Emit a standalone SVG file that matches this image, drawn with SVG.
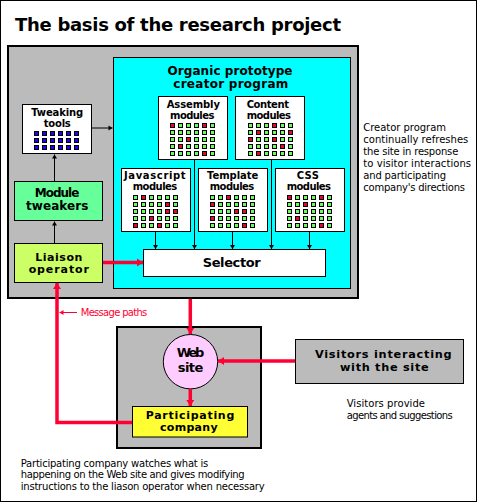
<svg xmlns="http://www.w3.org/2000/svg" xmlns:xlink="http://www.w3.org/1999/xlink" width="477" height="503" viewBox="0 0 477 503">
<style>
text{font-family:"DejaVu Sans","Liberation Sans",sans-serif;fill:#000}
.b{font-weight:bold}
.m{text-anchor:middle}
.s{font-size:10px}
.n{font-size:12px}
.box{stroke:#000;stroke-width:1}
.g{fill:#66FF55;stroke:#000;stroke-width:1}
.r{fill:#EE0033;stroke:#000;stroke-width:1}
.bl{fill:#2200EE;stroke:#000;stroke-width:1}
.k{stroke:#000;stroke-width:1;fill:none}
.red{stroke:#FF0033;stroke-width:3.5;fill:none}
</style>
<defs>
<marker id="ak" markerUnits="userSpaceOnUse" markerWidth="8" markerHeight="8" refX="4" refY="0" viewBox="0 -4 5 8" orient="auto"><path d="M0,-2.5 L4,0 L0,2.5 z" fill="#000"/></marker>
<marker id="ar" markerUnits="userSpaceOnUse" markerWidth="10" markerHeight="10" refX="6" refY="0" viewBox="0 -5 7 10" orient="auto"><path d="M0,-4 L6,0 L0,4 z" fill="#FF0033"/></marker>
<marker id="as" markerUnits="userSpaceOnUse" markerWidth="8" markerHeight="8" refX="4" refY="0" viewBox="0 -4 5 8" orient="auto"><path d="M0,-2.5 L4,0 L0,2.5 z" fill="#FF0033"/></marker>
<g id="grid">
<rect class="g" x="0.5" y="0.5" width="4" height="4"/><rect class="g" x="8.5" y="0.5" width="4" height="4"/><rect class="g" x="16.5" y="0.5" width="4" height="4"/><rect class="g" x="24.5" y="0.5" width="4" height="4"/><rect class="g" x="32.5" y="0.5" width="4" height="4"/><rect class="g" x="40.5" y="0.5" width="4" height="4"/>
<rect class="g" x="0.5" y="7.5" width="4" height="4"/><rect class="g" x="8.5" y="7.5" width="4" height="4"/><rect class="g" x="16.5" y="7.5" width="4" height="4"/><rect class="g" x="24.5" y="7.5" width="4" height="4"/><rect class="g" x="32.5" y="7.5" width="4" height="4"/><rect class="g" x="40.5" y="7.5" width="4" height="4"/>
<rect class="g" x="0.5" y="14.5" width="4" height="4"/><rect class="g" x="8.5" y="14.5" width="4" height="4"/><rect class="g" x="16.5" y="14.5" width="4" height="4"/><rect class="g" x="24.5" y="14.5" width="4" height="4"/><rect class="g" x="32.5" y="14.5" width="4" height="4"/><rect class="g" x="40.5" y="14.5" width="4" height="4"/>
<rect class="g" x="0.5" y="21.5" width="4" height="4"/><rect class="g" x="8.5" y="21.5" width="4" height="4"/><rect class="g" x="16.5" y="21.5" width="4" height="4"/><rect class="g" x="24.5" y="21.5" width="4" height="4"/><rect class="g" x="32.5" y="21.5" width="4" height="4"/><rect class="g" x="40.5" y="21.5" width="4" height="4"/>
<rect class="g" x="0.5" y="28.5" width="4" height="4"/><rect class="g" x="8.5" y="28.5" width="4" height="4"/><rect class="g" x="16.5" y="28.5" width="4" height="4"/><rect class="g" x="24.5" y="28.5" width="4" height="4"/><rect class="g" x="32.5" y="28.5" width="4" height="4"/><rect class="g" x="40.5" y="28.5" width="4" height="4"/>
</g>
</defs>

<rect x="0" y="0" width="477" height="503" fill="#fff"/>
<rect x="0.5" y="0.5" width="476" height="501" fill="none" stroke="#000" stroke-width="1"/>

<text class="b" x="15" y="31" font-size="18" textLength="326" lengthAdjust="spacing">The basis of the research project</text>

<g id="main-area">
<rect x="8" y="46" width="350" height="252" fill="#BBBBBB" stroke="#000" stroke-width="2"/>
</g>

<g id="creator-program">
<rect class="box" x="113.5" y="57.5" width="237" height="231" fill="#00FFFF"/>
<text class="b m n" x="230" y="75" textLength="125" lengthAdjust="spacing">Organic prototype</text>
<text class="b m n" x="230.8" y="88" textLength="115" lengthAdjust="spacing">creator program</text>
</g>

<g id="tweaking-tools">
<rect class="box" x="22.5" y="104.5" width="69" height="49" fill="#fff"/>
<text class="b m s" x="57.2" y="116" textLength="52" lengthAdjust="spacing">Tweaking</text>
<text class="b m s" x="57.3" y="126.7" textLength="27" lengthAdjust="spacing">tools</text>
<rect class="bl" x="34.5" y="131.5" width="4" height="4"/><rect class="bl" x="42.5" y="131.5" width="4" height="4"/><rect class="bl" x="50.5" y="131.5" width="4" height="4"/><rect class="bl" x="58.5" y="131.5" width="4" height="4"/><rect class="bl" x="66.5" y="131.5" width="4" height="4"/><rect class="bl" x="74.5" y="131.5" width="4" height="4"/>
<rect class="bl" x="34.5" y="138.5" width="4" height="4"/><rect class="bl" x="42.5" y="138.5" width="4" height="4"/><rect class="bl" x="50.5" y="138.5" width="4" height="4"/><rect class="bl" x="58.5" y="138.5" width="4" height="4"/><rect class="bl" x="66.5" y="138.5" width="4" height="4"/><rect class="bl" x="74.5" y="138.5" width="4" height="4"/>
<rect class="bl" x="34.5" y="145.5" width="4" height="4"/><rect class="bl" x="42.5" y="145.5" width="4" height="4"/><rect class="bl" x="50.5" y="145.5" width="4" height="4"/><rect class="bl" x="58.5" y="145.5" width="4" height="4"/><rect class="bl" x="66.5" y="145.5" width="4" height="4"/><rect class="bl" x="74.5" y="145.5" width="4" height="4"/>
</g>

<g id="module-tweakers">
<rect class="box" x="14.5" y="181.5" width="88" height="39" fill="#66FF99"/>
<text class="b m n" x="57" y="196.7" textLength="44.6" lengthAdjust="spacing">Module</text>
<text class="b m n" x="57.2" y="209.5" textLength="62.3" lengthAdjust="spacing">tweakers</text>
</g>

<g id="liaison-operator">
<rect class="box" x="14.5" y="243.5" width="88" height="39" fill="#CCFF66"/>
<text class="b m" x="58.8" y="260.5" font-size="11" textLength="47" lengthAdjust="spacing">Liaison</text>
<text class="b m" x="58.8" y="272.5" font-size="11" textLength="60.3" lengthAdjust="spacing">operator</text>
</g>

<g id="assembly-modules">
<rect class="box" x="158.5" y="96.5" width="69" height="63" fill="#fff"/>
<text class="b m s" x="193.3" y="108.3" textLength="53.3" lengthAdjust="spacing">Assembly</text>
<text class="b m s" x="192.2" y="118.5" textLength="44.3" lengthAdjust="spacing">modules</text>
<use xlink:href="#grid" x="170" y="123"/>
<rect class="r" x="170.5" y="123.5" width="4" height="4"/><rect class="r" x="202.5" y="123.5" width="4" height="4"/><rect class="r" x="186.5" y="137.5" width="4" height="4"/><rect class="r" x="178.5" y="144.5" width="4" height="4"/><rect class="r" x="202.5" y="151.5" width="4" height="4"/>
</g>

<g id="content-modules">
<rect class="box" x="235.5" y="96.5" width="69" height="63" fill="#fff"/>
<text class="b m s" x="267.8" y="108.3" textLength="42.3" lengthAdjust="spacing">Content</text>
<text class="b m s" x="268.8" y="118.5" textLength="44.3" lengthAdjust="spacing">modules</text>
<use xlink:href="#grid" x="248" y="123"/>
<rect class="r" x="272.5" y="123.5" width="4" height="4"/><rect class="r" x="256.5" y="130.5" width="4" height="4"/><rect class="r" x="288.5" y="130.5" width="4" height="4"/><rect class="r" x="248.5" y="137.5" width="4" height="4"/><rect class="r" x="272.5" y="137.5" width="4" height="4"/><rect class="r" x="280.5" y="144.5" width="4" height="4"/><rect class="r" x="256.5" y="151.5" width="4" height="4"/>
</g>

<g id="javascript-modules">
<rect class="box" x="121.5" y="168.5" width="69" height="63" fill="#fff"/>
<text class="b m s" x="154.8" y="179.3" textLength="61.7" lengthAdjust="spacing">Javascript</text>
<text class="b m s" x="155" y="190.2" textLength="44.6" lengthAdjust="spacing">modules</text>
<use xlink:href="#grid" x="133" y="195"/>
<rect class="r" x="141.5" y="195.5" width="4" height="4"/><rect class="r" x="165.5" y="202.5" width="4" height="4"/><rect class="r" x="165.5" y="209.5" width="4" height="4"/><rect class="r" x="173.5" y="209.5" width="4" height="4"/><rect class="r" x="149.5" y="216.5" width="4" height="4"/><rect class="r" x="133.5" y="223.5" width="4" height="4"/><rect class="r" x="157.5" y="223.5" width="4" height="4"/>
</g>

<g id="template-modules">
<rect class="box" x="198.5" y="168.5" width="69" height="63" fill="#fff"/>
<text class="b m s" x="232.7" y="179.3" textLength="51.3" lengthAdjust="spacing">Template</text>
<text class="b m s" x="232" y="190.2" textLength="44.6" lengthAdjust="spacing">modules</text>
<use xlink:href="#grid" x="210" y="195"/>
<rect class="r" x="226.5" y="195.5" width="4" height="4"/><rect class="r" x="210.5" y="202.5" width="4" height="4"/><rect class="r" x="234.5" y="209.5" width="4" height="4"/><rect class="r" x="242.5" y="209.5" width="4" height="4"/><rect class="r" x="210.5" y="216.5" width="4" height="4"/><rect class="r" x="242.5" y="223.5" width="4" height="4"/>
</g>

<g id="css-modules">
<rect class="box" x="275.5" y="168.5" width="69" height="63" fill="#fff"/>
<text class="b m s" x="307.8" y="179.3" textLength="22.3" lengthAdjust="spacing">CSS</text>
<text class="b m s" x="308.8" y="190.2" textLength="44.3" lengthAdjust="spacing">modules</text>
<use xlink:href="#grid" x="287" y="195"/>
<rect class="r" x="287.5" y="195.5" width="4" height="4"/><rect class="r" x="319.5" y="195.5" width="4" height="4"/><rect class="r" x="303.5" y="202.5" width="4" height="4"/><rect class="r" x="295.5" y="216.5" width="4" height="4"/><rect class="r" x="319.5" y="223.5" width="4" height="4"/>
</g>

<g id="selector">
<rect class="box" x="143.5" y="249.5" width="182" height="27" fill="#fff"/>
<text class="b m" x="231.7" y="266.7" font-size="13" textLength="58" lengthAdjust="spacing">Selector</text>
</g>

<g id="site-area">
<rect x="117" y="327" width="144" height="121" fill="#BBBBBB" stroke="#000" stroke-width="2"/>
</g>

<g id="web-site">
<circle cx="190.5" cy="361.7" r="27.2" fill="#FFCCFF" stroke="#000" stroke-width="1"/>
<text class="b m" x="190.5" y="356.7" font-size="13" textLength="27.7" lengthAdjust="spacing">Web</text>
<text class="b m" x="190.5" y="371.7" font-size="13" textLength="25.6" lengthAdjust="spacing">site</text>
</g>

<g id="participating-company">
<rect class="box" x="132.5" y="406.5" width="115" height="30.5" fill="#FFFF33"/>
<text class="b m" x="190" y="419" font-size="11" textLength="88.6" lengthAdjust="spacing">Participating</text>
<text class="b m" x="188.8" y="431" font-size="11" textLength="57.7" lengthAdjust="spacing">company</text>
</g>

<g id="visitors">
<rect class="box" x="295.5" y="339.5" width="168" height="44" fill="#BBBBBB"/>
<text class="b m" x="383.3" y="358.3" font-size="11.3" textLength="136.7" lengthAdjust="spacing">Visitors interacting</text>
<text class="b m" x="384.3" y="370.7" font-size="11.3" textLength="88.7" lengthAdjust="spacing">with the site</text>
</g>

<g id="connectors">
<path class="k" d="M92,128 H112.5" marker-end="url(#ak)"/>
<path class="k" d="M54.5,181 V154.5" marker-end="url(#ak)"/>
<path class="k" d="M54.5,243 V221.5" marker-end="url(#ak)"/>
<path class="k" d="M155.5,231.5 V249" marker-end="url(#ak)"/>
<path class="k" d="M194.5,159.5 V249" marker-end="url(#ak)"/>
<path class="k" d="M232.5,231.5 V249" marker-end="url(#ak)"/>
<path class="k" d="M271.5,159.5 V249" marker-end="url(#ak)"/>
<path class="k" d="M309.5,231.5 V249" marker-end="url(#ak)"/>
<path class="red" d="M103,262.5 H143" marker-end="url(#ar)"/>
<path class="red" d="M190.3,299 V334" marker-end="url(#ar)"/>
<path class="red" d="M190.3,389 V406" marker-end="url(#ar)"/>
<path class="red" d="M295,361 H218" marker-end="url(#ar)"/>
<path class="red" d="M132,422.5 H57 V283" marker-end="url(#ar)"/>
<path d="M77,312.5 H59.5" stroke="#FF0033" stroke-width="1" fill="none" marker-end="url(#as)"/>
</g>

<g id="notes">
<text x="80.7" y="315.5" font-size="10" style="fill:#FF0033" textLength="66.6" lengthAdjust="spacing">Message paths</text>
<text class="s" x="363.3" y="131" textLength="82.7" lengthAdjust="spacing">Creator program</text>
<text class="s" x="363.3" y="143.2" textLength="105" lengthAdjust="spacing">continually refreshes</text>
<text class="s" x="363.3" y="155" textLength="95" lengthAdjust="spacing">the site in response</text>
<text class="s" x="363.3" y="166.8" textLength="107.7" lengthAdjust="spacing">to visitor interactions</text>
<text class="s" x="363.3" y="179" textLength="82.7" lengthAdjust="spacing">and participating</text>
<text class="s" x="363.3" y="191" textLength="101.7" lengthAdjust="spacing">company's directions</text>
<text class="s" x="346.7" y="406.7" textLength="78.3" lengthAdjust="spacing">Visitors provide</text>
<text class="s" x="346.7" y="418.7" textLength="106" lengthAdjust="spacing">agents and suggestions</text>
<text class="s" x="20.7" y="466.7" textLength="187.6" lengthAdjust="spacing">Participating company watches what is</text>
<text class="s" x="20.7" y="478.3" textLength="224" lengthAdjust="spacing">happening on the Web site and gives modifying</text>
<text class="s" x="20.7" y="490" textLength="244" lengthAdjust="spacing">instructions to the liason operator when necessary</text>
</g>
</svg>
